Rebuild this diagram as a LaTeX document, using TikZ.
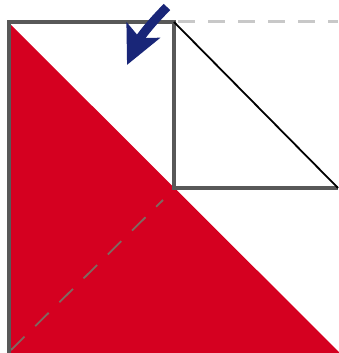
\documentclass[tikz,border=0pt]{standalone}
\usepackage{tikz}
\usetikzlibrary{arrows.meta}
\definecolor{foldred}{RGB}{213, 0, 32}
\definecolor{foldblue}{RGB}{25, 38, 120}
\definecolor{framegray}{RGB}{88, 88, 88}
\definecolor{creasebrown}{RGB}{128, 104, 96}
\definecolor{hintgray}{RGB}{200, 200, 200}

\begin{document}
\begin{tikzpicture}[x=1pt, y=-1pt,
        frame line/.style={draw=framegray, line width=3.6pt, line join=miter},
        fold line/.style={draw=black, line width=1.8pt},
        crease line/.style={draw=creasebrown, line width=1.8pt, dash pattern=on 19pt off 15pt},
        hint line/.style={draw=hintgray, line width=3pt, dash pattern=on 17pt off 13pt},
        move arrow/.style={draw=foldblue, line width=9pt, -{Stealth[length=38pt, width=36pt, inset=8pt]}}]

            \useasboundingbox (0,0) rectangle (338,353);

            \coordinate (topleft) at (9, 22);
            \coordinate (bottomleft) at (9, 353);
            \coordinate (topmid) at (174, 22);
            \coordinate (center) at (174, 188);
            \coordinate (rightmid) at (338, 188);
            \coordinate (topright) at (338, 22);
            \coordinate (bottomright) at (340, 353);
            \coordinate (creasestart) at (11, 350);
            \coordinate (creaseend) at (163, 200);
            \coordinate (arrowtail) at (167, 7);
            \coordinate (arrowtip) at (127, 65);

            % Folded red half
            \fill[foldred] (10, 24) -- (10, 353) -- (bottomright) -- cycle;

            % Crease hidden under the fold
            \path[crease line] (creasestart) -- (creaseend);

            % Outline of the paper
            \path[frame line] (bottomleft) -- (topleft) -- (topmid) -- (center) -- (rightmid);
            \path[fold line] (topmid) -- (rightmid);
            \path[hint line] (178, 22) -- (topright);

            % Direction of the fold
            \path[move arrow] (arrowtail) to[out=225, in=65] (arrowtip);

    \end{tikzpicture}
\end{document}
